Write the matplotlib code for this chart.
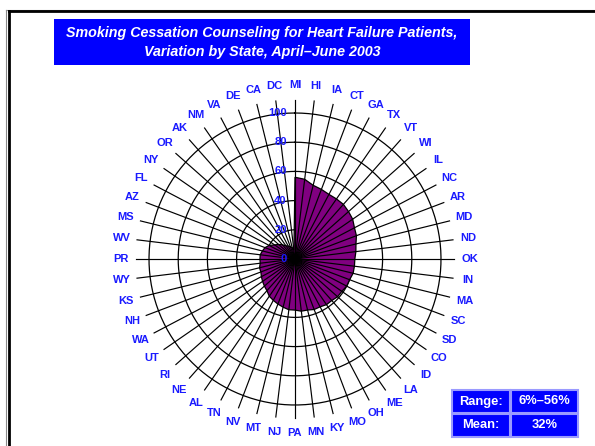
import numpy as np
import matplotlib
matplotlib.use("Agg")
import matplotlib.pyplot as plt
from matplotlib.patches import Rectangle
from matplotlib.lines import Line2D

plt.rcParams['font.family'] = ['Liberation Sans', 'DejaVu Sans']

# states clockwise from the top, highest to lowest
states = ["MI", "HI", "IA", "CT", "GA", "TX", "VT", "WI", "IL", "NC", "AR", "MD", "ND",
          "OK", "IN", "MA", "SC", "SD", "CO", "ID", "LA", "ME", "OH", "MO", "KY", "MN",
          "PA", "NJ", "MT", "NV", "TN", "AL", "NE", "RI", "UT", "WA", "NH", "KS", "WY",
          "PR", "WV", "MS", "AZ", "FL", "NY", "OR", "AK", "NM", "VA", "DE", "CA", "DC"]
pct = [56, 55, 52, 51, 50, 50, 50, 49, 48, 46, 45, 43, 42,
       41, 41, 41, 40, 40, 39, 39, 38, 38, 37, 37, 36, 36,
       35, 35, 34, 33, 32, 31, 29, 28, 27, 26, 25, 25, 24,
       24, 24, 23, 22, 20, 17, 15, 13, 11, 10, 9, 8, 6]
rings = [20, 40, 60, 80, 100]
ring_labels = [0, 20, 40, 60, 80, 100]
range_txt = "6%\u201356%"
mean_txt = "32%"

W, H = 595, 446
fig = plt.figure(figsize=(W / 100, H / 100), dpi=100)
fig.patch.set_facecolor("white")

# polar axes, centre at (295, 259) px, 100 units = 146 px
rmax = 120
cx, cy, rpx = 295, 259, 146 * rmax / 100
ax = fig.add_axes([(cx - rpx) / W, (H - cy - rpx) / H, 2 * rpx / W, 2 * rpx / H],
                  projection="polar")
ax.set_theta_zero_location("N")
ax.set_theta_direction(-1)
ax.set_ylim(0, rmax)
ax.set_xticks([])
ax.set_yticks([])
ax.grid(False)
ax.spines["polar"].set_visible(False)
ax.patch.set_alpha(0)

n = len(states)
theta = np.arange(n) * 2 * np.pi / n
circ = np.linspace(0, 2 * np.pi, 400)

for r in rings:
    ax.plot(circ, np.full_like(circ, r), color="black", lw=0.9, zorder=1)

ax.fill(np.append(theta, theta[0]), np.append(pct, pct[0]),
        facecolor="#800080", edgecolor="black", lw=0.9, zorder=2)

for t in theta:
    ax.plot([t, t], [0, 109], color="black", lw=0.85, zorder=3)

for t, s in zip(theta, states):
    ax.text(t, 119.5, s, ha="center", va="center", color="#1a1aff",
            fontsize=8, fontweight="bold", clip_on=False)

for v in ring_labels:
    ax.annotate(str(v), (0, v), xytext=(-6, 0), textcoords="offset points",
                ha="right", va="center", color="#1a1aff", fontsize=8,
                fontweight="bold", zorder=5)

# page frame
fig.add_artist(Line2D([6 / W, 6 / W], [0, 1 - 9.5 / H], color="#888888", lw=0.8))
fig.add_artist(Line2D([6 / W, 1], [1 - 9.5 / H, 1 - 9.5 / H], color="#888888", lw=0.8))
fig.add_artist(Line2D([8.5 / W, 8.5 / W], [0, 1 - 11 / H], color="black", lw=2))
fig.add_artist(Line2D([8.5 / W, 1], [1 - 11 / H, 1 - 11 / H], color="black", lw=2))

# title box
fig.add_artist(Rectangle((54 / W, 1 - 65 / H), 416 / W, 46 / H,
                         transform=fig.transFigure, facecolor="#0000ff", edgecolor="none"))
fig.text(262 / W, 1 - 33 / H, "Smoking Cessation Counseling for Heart Failure Patients,",
         ha="center", va="center", color="white", fontsize=10.3,
         fontweight="bold", fontstyle="italic")
fig.text(262 / W, 1 - 52 / H, "Variation by State, April\u2013June 2003",
         ha="center", va="center", color="white", fontsize=10.3,
         fontweight="bold", fontstyle="italic")

# range / mean table
cells = [(452, 390, 58, 23, "Range:"), (511, 390, 67, 23, range_txt),
         (452, 414, 58, 23, "Mean:"), (511, 414, 67, 23, mean_txt)]
for x, y, w, h, s in cells:
    fig.add_artist(Rectangle((x / W, 1 - (y + h) / H), w / W, h / H,
                             transform=fig.transFigure, facecolor="#0000ff",
                             edgecolor="#9a9aff", lw=1.5))
    fig.text((x + w / 2) / W, 1 - (y + h / 2) / H, s, ha="center", va="center",
             color="white", fontsize=9.3, fontweight="bold")

fig.savefig("out.png", dpi=100)
